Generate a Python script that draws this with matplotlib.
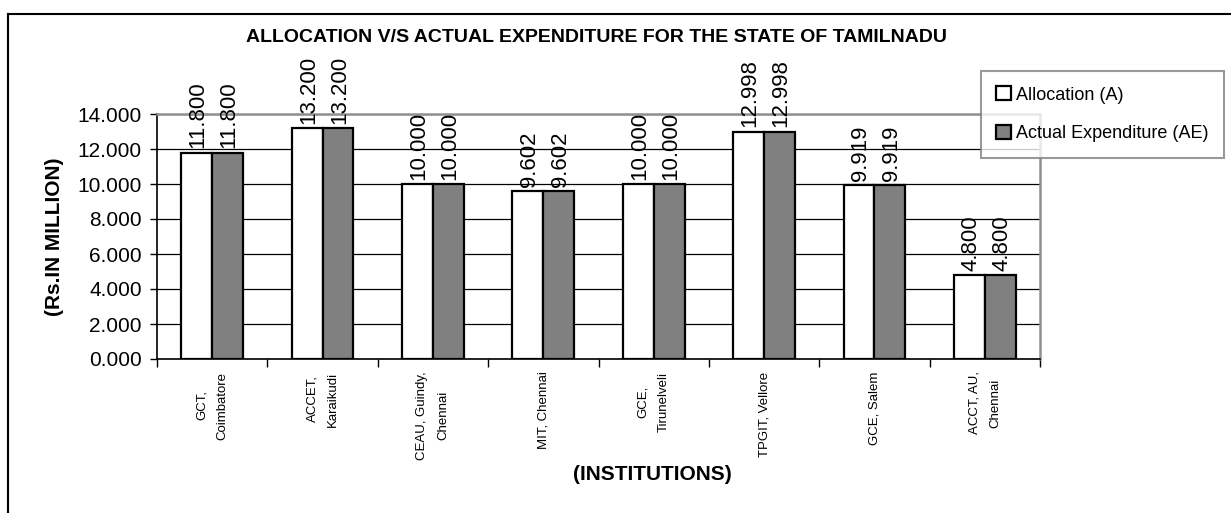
import numpy as np
import matplotlib
import matplotlib.pyplot as plt
from matplotlib.lines import Line2D
from matplotlib.patches import Patch

institutions = ["GCT,\nCoimbatore", "ACCET,\nKaraikudi", "CEAU, Guindy,\nChennai",
                "MIT, Chennai", "GCE,\nTirunelveli", "TPGIT, Vellore", "GCE, Salem",
                "ACCT, AU,\nChennai"]
allocation = [11.800, 13.200, 10.000, 9.602, 10.000, 12.998, 9.919, 4.800]
actual = [11.800, 13.200, 10.000, 9.602, 10.000, 12.998, 9.919, 4.800]
y_ticks = [0, 2, 4, 6, 8, 10, 12, 14]

plt.rcParams['font.family'] = ['Liberation Sans', 'DejaVu Sans']

fig = plt.figure(figsize=(12.31, 5.13), dpi=100)
ax = fig.add_axes([157 / 1231, 154 / 513, 883 / 1231, 245 / 513])

x = np.arange(len(institutions))
w = 0.28
b1 = ax.bar(x - w / 2, allocation, w, color="white", edgecolor="black", linewidth=1.6,
            label="Allocation (A)")
b2 = ax.bar(x + w / 2, actual, w, color="#808080", edgecolor="black", linewidth=1.6,
            label="Actual Expenditure (AE)")

for bars, vals in [(b1, allocation), (b2, actual)]:
    for rect, v in zip(bars, vals):
        ax.annotate("%.3f" % v, (rect.get_x() + rect.get_width() / 2, rect.get_height()),
                    xytext=(1, 3), textcoords="offset points", rotation=90,
                    ha="center", va="bottom", fontsize=16, annotation_clip=False)

ax.set_xlim(-0.5, len(institutions) - 0.5)
ax.set_ylim(0, 14)
ax.set_yticks(y_ticks)
ax.set_yticklabels(["%.3f" % t for t in y_ticks], fontsize=15)
ax.tick_params(axis="y", direction="out", length=5, width=1, pad=6)

ax.set_xticks(x)
ax.set_xticklabels(institutions, rotation=90, fontsize=9.5, va="top", ha="center",
                   multialignment="center", linespacing=2.0)
ax.set_xticks(np.arange(-0.5, len(institutions), 1), minor=True)
ax.tick_params(axis="x", which="major", length=0, pad=9)
ax.tick_params(axis="x", which="minor", direction="out", length=6, width=1)

ax.set_axisbelow(True)
ax.yaxis.grid(True, color="black", linewidth=0.9)
for s in ["top", "right"]:
    ax.spines[s].set_color("#909090")
    ax.spines[s].set_linewidth(1.8)
for s in ["left", "bottom"]:
    ax.spines[s].set_color("black")
    ax.spines[s].set_linewidth(1.2)

fig.text(55 / 1231, 1 - 237 / 513, "(Rs.IN MILLION)", rotation=90, ha="center", va="center",
         fontsize=15, fontweight="bold")
fig.text(652 / 1231, 1 - 475 / 513, "(INSTITUTIONS)", ha="center", va="center",
         fontsize=15, fontweight="bold")
fig.text(597 / 1231, 1 - 37 / 513, "ALLOCATION V/S ACTUAL EXPENDITURE FOR THE STATE OF TAMILNADU",
         ha="center", va="center", fontsize=14, fontweight="bold")

handles = [Patch(facecolor="white", edgecolor="black", linewidth=1.6),
           Patch(facecolor="#808080", edgecolor="black", linewidth=1.6)]
leg = fig.legend(handles, ["Allocation (A)", "Actual Expenditure (AE)"],
                 loc="upper left", bbox_to_anchor=(981 / 1231, 1 - 71 / 513),
                 fontsize=13, frameon=True, fancybox=False, handlelength=0.8,
                 handleheight=0.8, handletextpad=0.3, labelspacing=1.2,
                 borderpad=0.85, borderaxespad=0)
leg.get_frame().set_edgecolor("#808080")
leg.get_frame().set_linewidth(1.5)

# outer chart border (cropped on right and bottom)
fig.add_artist(Line2D([8 / 1231, 8 / 1231], [0, 1 - 14 / 513], color="black", linewidth=1.5))
fig.add_artist(Line2D([8 / 1231, 1], [1 - 14 / 513, 1 - 14 / 513], color="black", linewidth=1.5))

fig.savefig("out.png", dpi=100)
